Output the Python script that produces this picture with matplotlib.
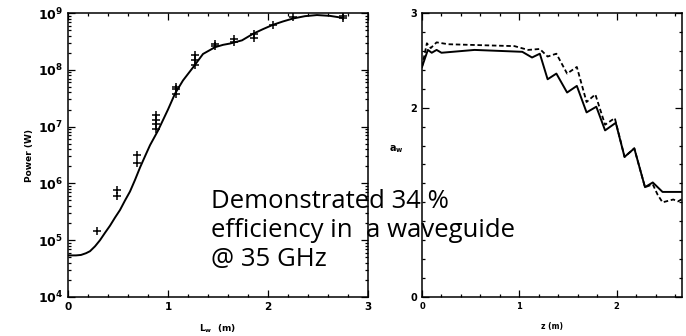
import matplotlib
matplotlib.use("Agg")
import matplotlib.pyplot as plt
from matplotlib.ticker import LogLocator, NullFormatter, FixedLocator, MultipleLocator

# left panel: measured power vs wiggler length
meas_L = [0.29, 0.49, 0.49, 0.69, 0.69, 0.88, 0.88, 0.88, 0.88, 1.08, 1.08, 1.08,
          1.27, 1.27, 1.27, 1.47, 1.47, 1.66, 1.66, 1.86, 1.86, 2.05, 2.25, 2.75, 2.75]
meas_P = [1.45e5, 5.9e5, 7.6e5, 2.3e6, 3.2e6, 9e6, 1.1e7, 1.3e7, 1.6e7, 3.8e7, 4.5e7, 5e7,
          1.2e8, 1.5e8, 1.8e8, 2.6e8, 2.8e8, 3.1e8, 3.5e8, 3.6e8, 4.2e8, 6.2e8, 8.5e8, 8.3e8, 8.7e8]

sim_L = [0.0, 0.08, 0.13, 0.18, 0.22, 0.27, 0.32, 0.37, 0.42, 0.47, 0.52, 0.57, 0.62, 0.67,
         0.72, 0.77, 0.82, 0.9, 1.0, 1.07, 1.15, 1.25, 1.35, 1.47, 1.55, 1.62, 1.74, 1.85,
         1.95, 2.05, 2.15, 2.25, 2.37, 2.49, 2.62, 2.75]
sim_P = [5.4e4, 5.4e4, 5.5e4, 5.9e4, 6.4e4, 7.8e4, 1.0e5, 1.35e5, 1.8e5, 2.5e5, 3.4e5, 5.0e5,
         7.2e5, 1.15e6, 1.9e6, 3.0e6, 4.7e6, 8.5e6, 2.0e7, 3.8e7, 6.5e7, 1.1e8, 1.9e8, 2.5e8,
         2.75e8, 2.9e8, 3.3e8, 4.3e8, 5.2e8, 6.2e8, 7.1e8, 8.0e8, 8.8e8, 9.2e8, 8.9e8, 8.2e8]

# right panel: wiggler parameter a_w along z
aw_z = [0.0, 0.06, 0.10, 0.15, 0.20, 0.54, 1.03, 1.13, 1.21, 1.29, 1.38, 1.49, 1.59, 1.69,
        1.79, 1.88, 1.99, 2.08, 2.18, 2.29, 2.37, 2.47, 2.68]
aw_solid = [2.43, 2.61, 2.58, 2.61, 2.58, 2.61, 2.59, 2.53, 2.57, 2.30, 2.36, 2.16, 2.23, 1.95,
            2.01, 1.76, 1.84, 1.48, 1.57, 1.16, 1.21, 1.11, 1.11]
aw_dz = [0.0, 0.05, 0.09, 0.15, 0.27, 0.95, 1.09, 1.21, 1.29, 1.38, 1.49, 1.59, 1.69, 1.78,
         1.88, 1.98, 2.08, 2.18, 2.29, 2.37, 2.42, 2.47, 2.58, 2.63, 2.68]
aw_dashed = [2.43, 2.68, 2.63, 2.69, 2.67, 2.65, 2.61, 2.62, 2.54, 2.57, 2.36, 2.43, 2.06, 2.14,
             1.82, 1.89, 1.48, 1.57, 1.16, 1.19, 1.08, 1.00, 1.03, 1.01, 1.04]

note = "Demonstrated 34 %\nefficiency in  a waveguide\n@ 35 GHz"

fig = plt.figure(figsize=(6.86, 3.36), dpi=100)
ax1 = fig.add_axes([68 / 686, 39 / 336, 300 / 686, 284 / 336])
ax2 = fig.add_axes([422 / 686, 39 / 336, 260 / 686, 284 / 336])

for ax in (ax1, ax2):
    for s in ax.spines.values():
        s.set_linewidth(1.1)
    ax.tick_params(which="both", direction="in", top=True, right=True, width=0.9)
    ax.tick_params(which="major", length=5, labelsize=8)
    ax.tick_params(which="minor", length=2.5)

ax1.set_yscale("log")
ax1.plot(sim_L, sim_P, color="black", lw=1.4)
ax1.plot(meas_L, meas_P, "+", color="black", ms=6, mew=1.1)
ax1.set_xlim(0, 3)
ax1.set_ylim(1e4, 1e9)
ax1.xaxis.set_major_locator(FixedLocator([0, 1, 2, 3]))
ax1.xaxis.set_minor_locator(MultipleLocator(0.2))
ax1.yaxis.set_major_locator(FixedLocator([1e4, 1e5, 1e6, 1e7, 1e8, 1e9]))
ax1.yaxis.set_minor_locator(LogLocator(base=10, subs=range(2, 10)))
ax1.yaxis.set_minor_formatter(NullFormatter())
ax1.set_yticklabels([r"$\mathbf{10^{%d}}$" % e for e in range(4, 10)], fontsize=9)
ax1.set_xticklabels(["0", "1", "2", "3"], fontweight="bold", fontsize=7.5)
ax1.set_ylabel("Power (W)", fontsize=6.5, fontweight="bold", labelpad=3)
ax1.set_xlabel(r"$\mathbf{L_w}$  (m)", fontsize=6.5, fontweight="bold", labelpad=8)

ax2.plot(aw_z, aw_solid, color="black", lw=1.4)
ax2.plot(aw_dz, aw_dashed, color="black", lw=1.3, ls=(0, (2.5, 1.5)))
ax2.set_xlim(0, 2.67)
ax2.set_ylim(0, 3)
ax2.xaxis.set_major_locator(FixedLocator([0, 1, 2]))
ax2.xaxis.set_minor_locator(MultipleLocator(0.2))
ax2.yaxis.set_major_locator(FixedLocator([0, 2, 3]))
ax2.yaxis.set_minor_locator(MultipleLocator(0.2))
ax2.set_yticklabels(["0", "2", "3"], fontweight="bold", fontsize=7)
ax2.set_xticklabels(["0", "1", "2"], fontweight="bold", fontsize=6)
ax2.set_xlabel("z (m)", fontsize=5.5, fontweight="bold", labelpad=8)
ax2.set_ylabel(r"$\mathbf{a_w}$", fontsize=7, rotation=0, labelpad=10)

fig.text(211 / 686, 1 - 266 / 336, note, fontsize=18.5, family="Open Sans",
         va="baseline", ha="left", linespacing=1.2)

fig.savefig("out.png", dpi=100)
